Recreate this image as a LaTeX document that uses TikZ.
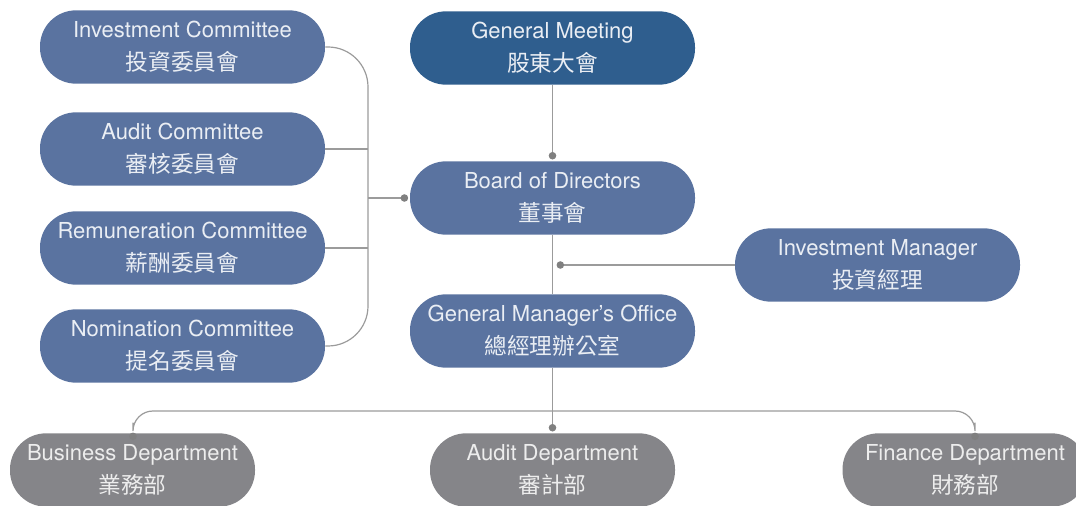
\documentclass[tikz,border=0pt]{standalone}
\usepackage{fontspec}
\setmainfont{TeX Gyre Heros}
\newfontfamily\cjk{Noto Sans CJK TC}
\usetikzlibrary{calc,arrows.meta}
\definecolor{boxblue}{HTML}{5A73A0}
\definecolor{boxdark}{HTML}{2F5E8E}
\definecolor{boxgray}{HTML}{858589}
\definecolor{linegray}{HTML}{9B9B9B}
\definecolor{dotgray}{HTML}{808080}
\definecolor{txt}{HTML}{EAEEF4}
\newcommand{\twol}[2]{#1\\{\cjk\fontsize{17}{24.5}\selectfont #2}}
\begin{document}
\begin{tikzpicture}[x=0.75pt,y=-0.75pt,
  pill/.style={rectangle, rounded corners=27pt, minimum width=213.75pt,
    minimum height=55pt, inner sep=0pt, fill=boxblue, text=txt, align=center,
    font=\fontsize{16.5}{24.5}\selectfont},
  dept/.style={pill, fill=boxgray, text=white!93!black, minimum width=183.75pt},
  conn/.style={draw=linegray, line width=0.9pt},
  todot/.style={-{Circle[length=5.6pt,color=dotgray]}, shorten >=1.2pt},
  bothdot/.style={{Circle[length=5.6pt,color=dotgray]}-{Circle[length=5.6pt,color=dotgray]}, shorten >=1.2pt, shorten <=1.2pt}]
\useasboundingbox (0,0) rectangle (1076,506);
% nodes
\node[pill] (ic) at (182.5,47) {\twol{Investment Committee}{投資委員會}};
\node[pill] (ac) at (182.5,149) {\twol{Audit Committee}{審核委員會}};
\node[pill] (rc) at (182.5,248) {\twol{Remuneration Committee}{薪酬委員會}};
\node[pill] (nc) at (182.5,346) {\twol{Nomination Committee}{提名委員會}};
\node[pill, fill=boxdark] (gm) at (552.5,48) {\twol{General Meeting}{股東大會}};
\node[pill] (bod) at (552.5,198) {\twol{Board of Directors}{董事會}};
\node[pill] (im) at (877.5,265) {\twol{Investment Manager}{投資經理}};
\node[pill] (gmo) at (552.5,331) {\twol{General Manager’s Office}{總經理辦公室}};
\node[dept] (bd) at (132.5,470) {\twol{Business Department}{業務部}};
\node[dept] (ad) at (552.5,470) {\twol{Audit Department}{審計部}};
\node[dept] (fd) at (965,470) {\twol{Finance Department}{財務部}};
% committee trunk
\coordinate (trunk) at (368,198);
\draw[conn, rounded corners=30pt] (ic.east) -- (ic.east -| trunk) -- (nc.east -| trunk) -- (nc.east);
\draw[conn] (ac.east) -- (ac.east -| trunk);
\draw[conn] (rc.east) -- (rc.east -| trunk);
\draw[conn, todot] (trunk) -- (bod.west);
% main spine
\draw[conn, todot] (gm.south) -- (bod.north);
\draw[conn] (bod.south) -- (gmo.north);
\coordinate (imj) at (555,265);
\draw[conn, todot] (im.west) -- (imj);
% departments
\coordinate (bus) at (552.5,411);
\coordinate (bdtip) at (133,431);
\coordinate (fdtip) at (975,431);
\draw[conn, todot] (gmo.south) -- (ad.north);
\draw[conn, bothdot, rounded corners=15pt] (bdtip) -- (bdtip |- bus) -- (fdtip |- bus) -- (fdtip);
\end{tikzpicture}
\end{document}
